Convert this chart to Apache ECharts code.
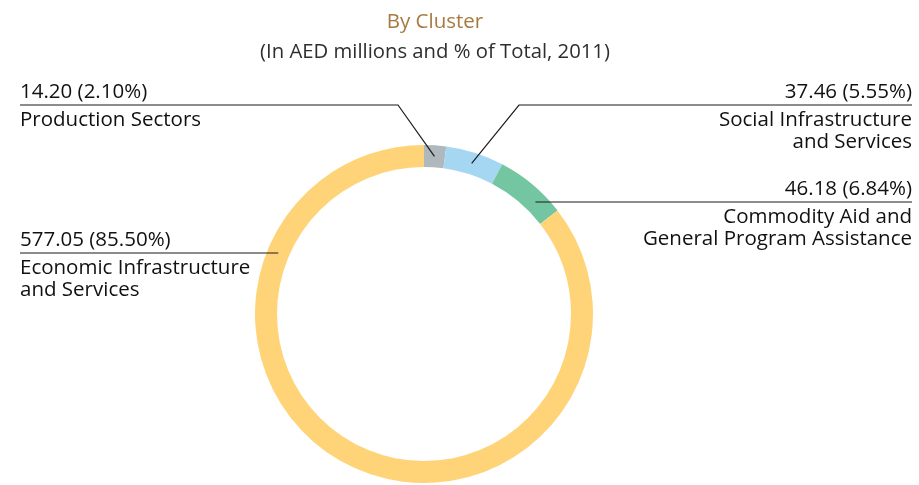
<!DOCTYPE html>
<html>
<head>
<meta charset="utf-8">
<script src="https://cdn.jsdelivr.net/npm/echarts@6/dist/echarts.min.js"></script>
<style>
  html, body { margin: 0; padding: 0; background: #ffffff; }
  #chart { width: 919px; height: 485px; }
</style>
</head>
<body>
<div id="chart"></div>
<script>
// Aid disbursements by cluster, 2011 (AED millions)
const categories = [
  'Production Sectors',
  'Social Infrastructure\nand Services',
  'Commodity Aid and\nGeneral Program Assistance',
  'Economic Infrastructure\nand Services'
];
const values = [14.20, 37.46, 46.18, 577.05];
const shares = [2.10, 5.55, 6.84, 85.50];

const sliceColors = ['#aeb8bd', '#a5d7f2', '#74c6a2', '#ffd478'];
const FONT = '"Open Sans", "Noto Sans", sans-serif';
const TEXT_SIZE = 20.5;

// Ring geometry
const PIE_CX = 424, PIE_CY = 314, R_IN = 147, R_OUT = 169;
const R_MID = (R_IN + R_OUT) / 2;

// Label placement: side, y of the rule under the value, and the elbow of the leader
const labelPlacement = [
  { side: 'left',  ruleY: 105, elbowX: 398, radial: true },
  { side: 'right', ruleY: 105, elbowX: 519, radial: true },
  { side: 'right', ruleY: 202, radial: false },
  { side: 'left',  ruleY: 253, radial: false }
];
const LEFT_X = 20, RIGHT_X = 912, VALUE_LH = 34, NAME_LH = 22, LABEL_RISE = 30;

const ringBase = {
  type: 'pie',
  center: [PIE_CX, PIE_CY],
  radius: [R_IN, R_OUT],
  startAngle: 90,
  clockwise: true,
  avoidLabelOverlap: false,
  emphasis: { disabled: true },
  silent: true
};

const chart = echarts.init(document.getElementById('chart'), null, { renderer: 'canvas' });

chart.setOption({
  backgroundColor: '#ffffff',
  animation: false,
  title: [
    {
      text: 'By Cluster',
      left: 430, top: 7, textAlign: 'center',
      textStyle: { fontFamily: FONT, fontSize: 20.5, fontWeight: 'normal', color: '#a67a3f' }
    },
    {
      text: '(In AED millions and % of Total, 2011)',
      left: 430, top: 37, textAlign: 'center',
      textStyle: { fontFamily: FONT, fontSize: 20.3, fontWeight: 'normal', color: '#2e2e2e' }
    }
  ],
  series: [
    // coloured ring
    Object.assign({}, ringBase, {
      z: 1,
      itemStyle: { borderWidth: 0 },
      label: { show: false },
      labelLine: { show: false },
      data: categories.map((name, i) => ({
        name: name,
        value: values[i],
        itemStyle: { color: sliceColors[i] }
      }))
    }),
    // same ring, invisible, carrying the labels and leaders above the colour
    Object.assign({}, ringBase, {
      z: 3,
      itemStyle: { color: 'rgba(0,0,0,0)', borderWidth: 0 },
      data: categories.map((name, i) => ({ name: name, value: values[i] })),
      label: {
        show: true,
        position: 'outside',
        fontFamily: FONT,
        color: '#111111',
        formatter: (p) => {
          const i = p.dataIndex;
          const lines = categories[i].split('\n').map(s => '{n|' + s + '}').join('\n');
          return '{v|' + values[i].toFixed(2) + ' (' + shares[i].toFixed(2) + '%)}\n' + lines;
        },
        rich: {
          v: { fontFamily: FONT, fontSize: TEXT_SIZE, color: '#111111', lineHeight: VALUE_LH },
          n: { fontFamily: FONT, fontSize: TEXT_SIZE, color: '#111111', lineHeight: NAME_LH }
        }
      },
      labelLine: {
        show: true,
        lineStyle: { color: '#1a1a1a', width: 1.2, opacity: 1 }
      },
      labelLayout: function (params) {
        const i = params.dataIndex;
        const cfg = labelPlacement[i];
        const p0 = params.labelLinePoints[0];
        const ux = p0[0] - PIE_CX, uy = p0[1] - PIE_CY;
        const len = Math.sqrt(ux * ux + uy * uy) || 1;
        const endX = cfg.side === 'left' ? LEFT_X : RIGHT_X;
        let pts;
        if (cfg.radial) {
          const start = [PIE_CX + ux / len * R_MID, PIE_CY + uy / len * R_MID];
          pts = [start, [cfg.elbowX, cfg.ruleY], [endX, cfg.ruleY]];
        } else {
          const dy = cfg.ruleY - PIE_CY;
          const dx = Math.sqrt(R_MID * R_MID - dy * dy);
          const sx = cfg.side === 'left' ? PIE_CX - dx : PIE_CX + dx;
          pts = [[sx, cfg.ruleY], [sx, cfg.ruleY], [endX, cfg.ruleY]];
        }
        return {
          x: endX,
          y: cfg.ruleY - LABEL_RISE,
          align: cfg.side === 'left' ? 'left' : 'right',
          verticalAlign: 'top',
          labelLinePoints: pts
        };
      }
    })
  ]
});
</script>
</body>
</html>
